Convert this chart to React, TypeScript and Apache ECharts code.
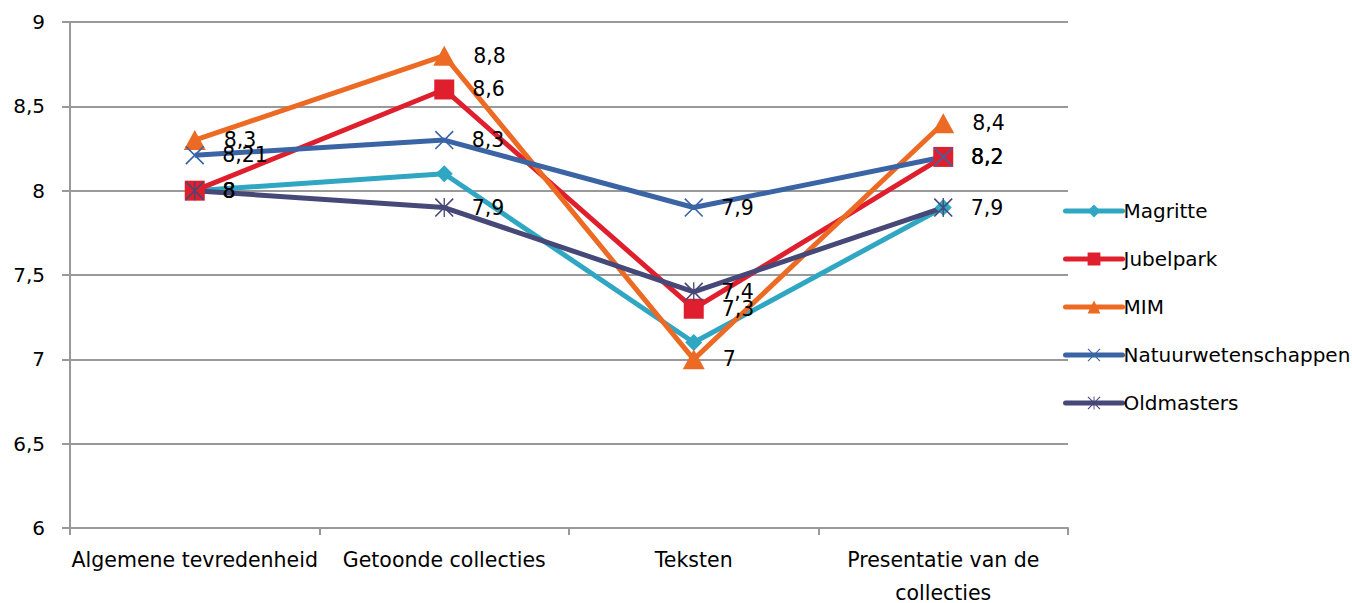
import React, { useEffect, useRef } from "react";
import * as echarts from "echarts";

const categories = ["Algemene tevredenheid", "Getoonde collecties", "Teksten", "Presentatie van de\ncollecties"];
const magritte = [8, 8.1, 7.1, 7.9];
const jubelpark = [8, 8.6, 7.3, 8.2];
const mim = [8.3, 8.8, 7.0, 8.4];
const natuur = [8.21, 8.3, 7.9, 8.2];
const oldmasters = [8, 7.9, 7.4, 7.9];

const FONT = "DejaVu Sans";
const X_PATH = "path://M0,1.2 L1.2,0 L20,18.8 L18.8,20 Z M18.8,0 L20,1.2 L1.2,20 L0,18.8 Z";
const STAR_PATH = "path://M0,1.2 L1.2,0 L20,18.8 L18.8,20 Z M18.8,0 L20,1.2 L1.2,20 L0,18.8 Z M9.3,0 L10.7,0 L10.7,20 L9.3,20 Z";

export default function App() {
  const ref = useRef<HTMLDivElement>(null);
  useEffect(() => {
    const chart = echarts.init(ref.current!, null, { renderer: "svg" });
    const label = {
      show: true,
      position: "right" as const,
      distance: 18,
      color: "#000",
      fontFamily: FONT,
      fontSize: 20.5,
      formatter: (p: any) => String(p.value).replace(".", ","),
    };
    const mk = (name: string, data: number[], color: string, symbol: string, size: any, showLabel: boolean) => ({
      name,
      type: "line",
      data,
      symbol,
      symbolSize: size,
      lineStyle: { color, width: 5 },
      itemStyle: { color },
      label: showLabel ? label : { show: false },
      z: 2,
    });
    chart.setOption({
      animation: false,
      backgroundColor: "#fff",
      textStyle: { fontFamily: FONT },
      grid: { left: 70, right: 284, top: 22, bottom: 75, outerBoundsMode: "none" },
      legend: {
        orient: "vertical",
        left: 1058,
        top: 196,
        itemWidth: 57,
        itemHeight: 16,
        itemGap: 28,
        lineStyle: { width: 5, cap: "round" },
        textStyle: { color: "#000", fontFamily: FONT, fontSize: 20, padding: [0, 0, 0, -4] },
        data: ["Magritte", "Jubelpark", "MIM", "Natuurwetenschappen", "Oldmasters"],
      },
      xAxis: {
        type: "category",
        data: categories,
        boundaryGap: true,
        axisLine: { lineStyle: { color: "#999", width: 2 } },
        axisTick: { show: true, length: 7, lineStyle: { color: "#999", width: 2 } },
        axisLabel: { color: "#000", fontFamily: FONT, fontSize: 20.5, margin: 15, lineHeight: 33, interval: 0 },
      },
      yAxis: {
        type: "value",
        min: 6,
        max: 9,
        interval: 0.5,
        axisLine: { show: true, lineStyle: { color: "#999", width: 2 } },
        axisTick: { show: true, length: 8, lineStyle: { color: "#999", width: 2 } },
        splitLine: { lineStyle: { color: "#999", width: 2 } },
        axisLabel: {
          color: "#000",
          fontFamily: FONT,
          fontSize: 20,
          margin: 25,
          formatter: (v: number) => String(v).replace(".", ","),
        },
      },
      series: [
        mk("Magritte", magritte, "#2FA6C2", "diamond", 17, false),
        mk("Jubelpark", jubelpark, "#DF1F2D", "rect", 20, true),
        mk("MIM", mim, "#EC6A23", "triangle", [22, 20], true),
        mk("Natuurwetenschappen", natuur, "#3A64A4", X_PATH, 19, true),
        mk("Oldmasters", oldmasters, "#464878", STAR_PATH, 19, true),
      ],
    });
    return () => chart.dispose();
  }, []);
  return <div ref={ref} style={{ position: "absolute", left: 0, top: 0, width: 1352, height: 603 }} />;
}
